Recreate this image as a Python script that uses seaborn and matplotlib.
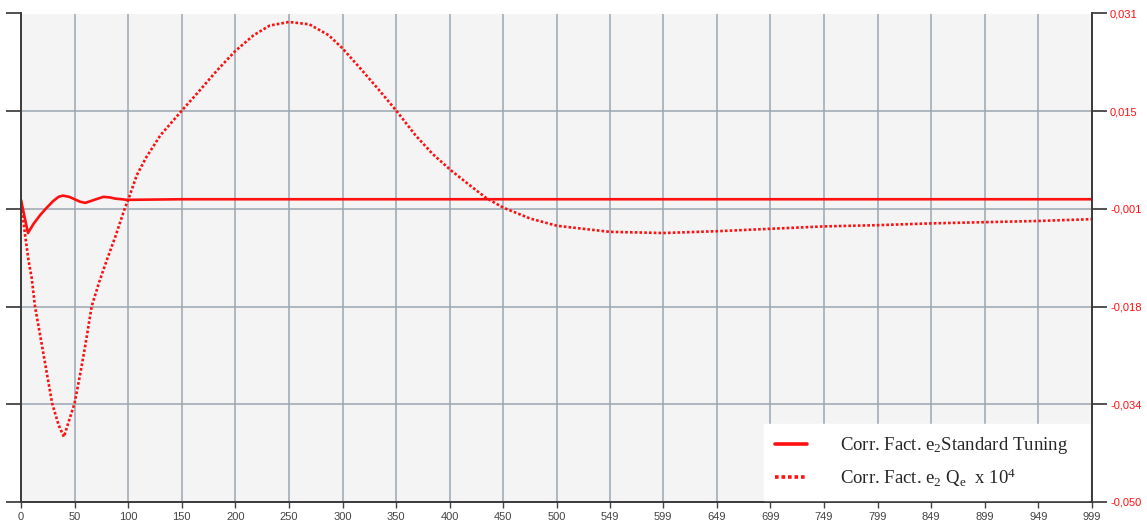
import numpy as np
import matplotlib
matplotlib.use("Agg")
import matplotlib.pyplot as plt
import seaborn as sns

# solid curve: correction factor e2, standard tuning
std_x = [0, 6.5, 12, 18, 24, 30, 35, 39, 45, 50, 55, 60, 65, 70, 77, 83, 88, 94, 99,
         150, 300, 500, 700, 999]
std_y = [0.0001, -0.0054, -0.0038, -0.0024, -0.0012, -0.0001, 0.0006, 0.0008, 0.0006,
         0.0002, -0.0002, -0.0004, -0.0001, 0.0002, 0.0006, 0.0005, 0.0003, 0.0002, 0.0001,
         0.0002, 0.0002, 0.0002, 0.0002, 0.0002]

# dotted curve: e2 Qe x 10^4
qe_x = [0, 4, 7, 10, 13, 20, 29, 35, 40, 45, 50, 55, 60, 66, 73, 80, 88, 97, 100, 108,
        117, 130, 150, 167, 182, 200, 217, 232, 250, 269, 287, 300, 318, 334, 350,
        368, 384, 401, 418, 434, 450, 475, 500, 549, 599, 649, 699, 749, 799, 849, 899,
        949, 999]
qe_y = [-0.0001, -0.0060, -0.0099, -0.0129, -0.0175, -0.0245, -0.0336, -0.0372, -0.0392,
        -0.0364, -0.0336, -0.0290, -0.0240, -0.0175, -0.0135, -0.0099, -0.0060, -0.0012,
        0.0001, 0.0042, 0.0072, 0.0108, 0.0149, 0.0183, 0.0214, 0.0248, 0.0274, 0.0290,
        0.0296, 0.0292, 0.0274, 0.0252, 0.0216, 0.0183, 0.0149, 0.0108, 0.0077,
        0.0050, 0.0026, 0.0004, -0.0012, -0.0030, -0.0042, -0.0052, -0.0054, -0.0051,
        -0.0047, -0.0043, -0.0041, -0.0038, -0.0036, -0.0034, -0.0031]

x_ticks = [0, 50, 100, 150, 200, 250, 300, 350, 400, 450, 500,
           549, 599, 649, 699, 749, 799, 849, 899, 949, 999]
y_min, y_max = -0.050, 0.031
y_tick_labels = ["-0,050", "-0,034", "-0,018", "-0,001", "0,015", "0,031"]

sns.set_style("whitegrid")
plt.rcParams["mathtext.fontset"] = "custom"
plt.rcParams["mathtext.rm"] = "Liberation Serif"
plt.rcParams["mathtext.it"] = "Liberation Serif"
plt.rcParams["mathtext.default"] = "regular"

red = "#ff1010"
fig = plt.figure(figsize=(11.47, 5.24), dpi=100)
ax = fig.add_axes([21 / 1147, 22 / 524, 1071 / 1147, 488.5 / 524])
ax.set_facecolor("#f4f4f4")

sns.lineplot(x=std_x, y=std_y, ax=ax, color=red, linewidth=1.9,
             label="Corr. Fact. e$_2$Standard Tuning   ")
sns.lineplot(x=qe_x, y=qe_y, ax=ax, color=red, linewidth=1.9,
             linestyle=(0, (1, 0.8)), label="Corr. Fact. e$_2$ Q$_e$  x 10$^4$")

ax.set_xlim(0, 999)
ax.set_ylim(y_min, y_max)
ax.set_xticks(x_ticks)
ax.set_xticklabels([str(t) for t in x_ticks])
ax.set_yticks(np.linspace(y_min, y_max, 6))
ax.set_yticklabels(y_tick_labels)

ax.grid(True, color="#9ba6b2", linewidth=1.1)
ax.tick_params(axis="y", left=True, right=True, labelleft=False, labelright=True,
               direction="out", length=11, width=1.2, color="#333333",
               labelcolor=red, labelsize=8, pad=2)
ax.tick_params(axis="x", bottom=True, direction="out", length=4, width=1,
               color="#444444", labelcolor="#444444", labelsize=8, pad=3)
for lbl in ax.get_xticklabels() + ax.get_yticklabels():
    lbl.set_family("Liberation Sans")

ax.spines["top"].set_visible(False)
for side in ["left", "bottom", "right"]:
    ax.spines[side].set_visible(True)
    ax.spines[side].set_color("#3a3a3a")
    ax.spines[side].set_linewidth(1.4)

leg = ax.legend(loc="lower right", bbox_to_anchor=(0.997, 0.004), frameon=True,
                fancybox=False, framealpha=1, edgecolor="white", facecolor="white",
                prop={"family": "Liberation Serif", "size": 13.5}, handlelength=1.7,
                handletextpad=1.75, borderpad=0.6, labelspacing=0.55, borderaxespad=0)
for h in leg.get_lines():
    h.set_linewidth(2.6)

fig.savefig("out.png", dpi=100, facecolor="white")
